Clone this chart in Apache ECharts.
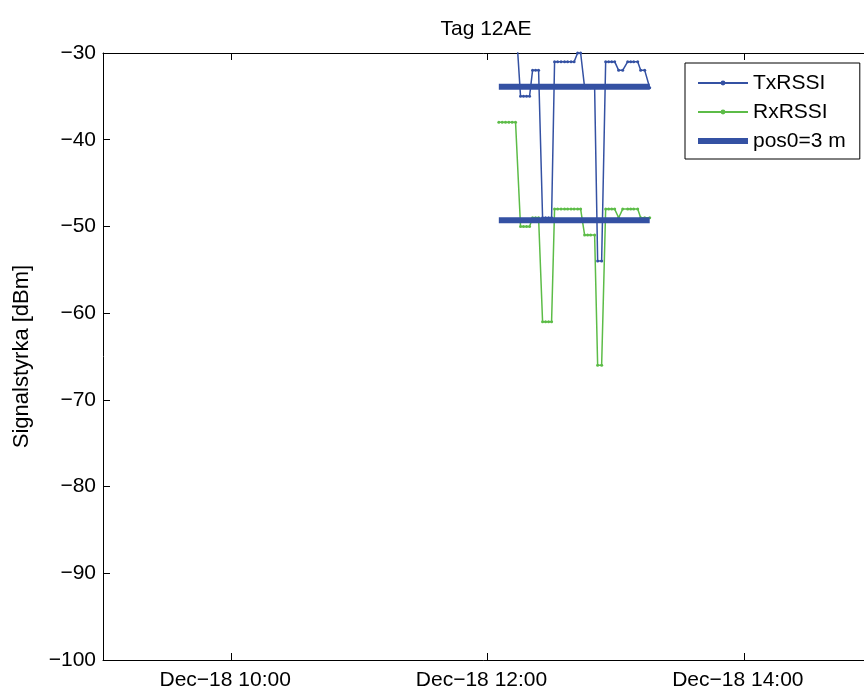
<!DOCTYPE html>
<html>
<head>
<meta charset="utf-8">
<script src="https://cdn.jsdelivr.net/npm/echarts@6/dist/echarts.min.js"></script>
<style>html,body{margin:0;padding:0;background:#fff}#c{width:864px;height:693px}</style>
</head>
<body>
<div id="c"></div>
<script>
// ---- data ----
var day = '2012-12-18';
var times = ['12:05:18','12:06:54','12:08:26','12:10:00','12:11:34','12:13:08',
  '12:15:28','12:16:52','12:18:17','12:19:41',
  '12:21:06','12:22:30','12:23:55',
  '12:25:47','12:27:11','12:28:36','12:30:00',
  '12:31:24','12:32:49','12:34:27','12:36:05','12:37:30','12:39:08','12:40:33','12:42:11','12:43:36',
  '12:45:28','12:46:52','12:48:17','12:50:09',
  '12:51:34','12:53:26',
  '12:55:19','12:56:43','12:58:08','12:59:32',
  '13:01:24','13:03:17',
  '13:05:38','13:07:02','13:08:27','13:10:19',
  '13:11:43','13:13:36',
  '13:15:56'];
var txRSSI = [-26,-26,-26,-26,-26,-26,
  -35,-35,-35,-35,
  -32,-32,-32,
  -49,-49,-49,-49,
  -31,-31,-31,-31,-31,-31,-31,-30,-30,
  -34,-34,-34,-34,
  -54,-54,
  -31,-31,-31,-31,
  -32,-32,
  -31,-31,-31,-31,
  -32,-32,
  -34];
var rxRSSI = [-38,-38,-38,-38,-38,-38,
  -50,-50,-50,-50,
  -49,-49,-49,
  -61,-61,-61,-61,
  -48,-48,-48,-48,-48,-48,-48,-48,-48,
  -51,-51,-51,-51,
  -66,-66,
  -48,-48,-48,-48,
  -49,-48,
  -48,-48,-48,-48,
  -49,-49,
  -49];
var posName = 'pos0=3 m';
var posStart = '12:05:18', posEnd = '13:15:56';
var posTx = -33.9, posRx = -49.3;
var xMin = '09:00', xMax = '15:00';
var xTicks = ['10:00', '12:00', '14:00'];
var yMin = -100, yMax = -30, yStep = 10;
var titleText = 'Tag 12AE';
var yName = 'Signalstyrka [dBm]';

// ---- build ----
function ts(hm) {
  var p = day.split('-').map(Number), q = hm.split(':').map(Number);
  return new Date(p[0], p[1]-1, p[2], q[0], q[1], q[2] || 0).getTime();
}
function pair(vals) { return times.map(function (t, i) { return [ts(t), vals[i]]; }); }
var MINUS = '\u2212';
var BLUE = '#3451a3', GREEN = '#5cbc47';
var FONT = 'Liberation Sans';
var tickVals = xTicks.map(ts);
function fmtX(v) {
  var d = new Date(v);
  var hh = ('0' + d.getHours()).slice(-2), mm = ('0' + d.getMinutes()).slice(-2);
  return 'Dec' + MINUS + '18 ' + hh + ':' + mm;
}

var chart = echarts.init(document.getElementById('c'), null, {renderer: 'canvas'});
chart.setOption({
  animation: false,
  backgroundColor: '#fff',
  title: {
    text: titleText, left: 481, top: 14, textAlign: 'center',
    textStyle: {fontFamily: FONT, fontSize: 21, fontWeight: 'normal', color: '#000'}
  },
  grid: {left: 103, top: 53, width: 769, height: 607, show: false, outerBoundsMode: 'none', containLabel: false},
  legend: {
    orient: 'vertical', left: 685, top: 63,
    padding: [8, 14, 6, 12], itemGap: 5, itemWidth: 50, itemHeight: 6,
    backgroundColor: '#fff', borderColor: '#000', borderWidth: 1,
    textStyle: {fontFamily: FONT, fontSize: 21, color: '#000', lineHeight: 24},
    data: [
      {name: 'TxRSSI'},
      {name: 'RxRSSI'},
      {name: posName, icon: 'rect', itemStyle: {color: BLUE}}
    ],
    z: 10
  },
  xAxis: [{
    type: 'value', min: ts(xMin), max: ts(xMax), position: 'bottom', scale: true,
    axisLine: {show: true, onZero: false, lineStyle: {color: '#000', width: 1}},
    axisTick: {show: true, inside: true, length: 7, customValues: tickVals, lineStyle: {color: '#000'}},
    axisLabel: {customValues: tickVals, formatter: fmtX, margin: 10, color: '#000',
      fontFamily: FONT, fontSize: 21, hideOverlap: false, padding: [0, 12, 0, 0]},
    splitLine: {show: false}
  }, {
    type: 'value', min: ts(xMin), max: ts(xMax), position: 'top', scale: true,
    axisLine: {show: true, onZero: false, lineStyle: {color: '#000', width: 1}},
    axisTick: {show: true, inside: true, length: 7, customValues: tickVals, lineStyle: {color: '#000'}},
    axisLabel: {show: false},
    splitLine: {show: false}
  }],
  yAxis: {
    type: 'value', min: yMin, max: yMax, interval: yStep,
    name: yName, nameLocation: 'middle', nameGap: 70, nameRotate: 90,
    nameTextStyle: {fontFamily: FONT, fontSize: 22, color: '#000'},
    axisLine: {show: true, onZero: false, lineStyle: {color: '#000', width: 1}},
    axisTick: {show: true, inside: true, length: 7, lineStyle: {color: '#000'}},
    axisLabel: {margin: 7, color: '#000', fontFamily: FONT, fontSize: 21,
      formatter: function (v) { return String(v).replace('-', MINUS); }},
    splitLine: {show: false}
  },
  series: [
    {name: 'TxRSSI', type: 'line', data: pair(txRSSI), clip: true,
     symbol: 'circle', symbolSize: 3, showSymbol: true,
     itemStyle: {color: BLUE}, lineStyle: {color: BLUE, width: 1.5}, z: 2},
    {name: 'RxRSSI', type: 'line', data: pair(rxRSSI), clip: true,
     symbol: 'circle', symbolSize: 3, showSymbol: true,
     itemStyle: {color: GREEN}, lineStyle: {color: GREEN, width: 1.5}, z: 1},
    {name: posName, type: 'line', data: [[ts(posStart), posTx], [ts(posEnd), posTx]],
     symbol: 'none', itemStyle: {color: BLUE}, lineStyle: {color: BLUE, width: 6}, z: 3},
    {name: posName, type: 'line', data: [[ts(posStart), posRx], [ts(posEnd), posRx]],
     symbol: 'none', itemStyle: {color: BLUE}, lineStyle: {color: BLUE, width: 6}, z: 3}
  ]
});
</script>
</body>
</html>
